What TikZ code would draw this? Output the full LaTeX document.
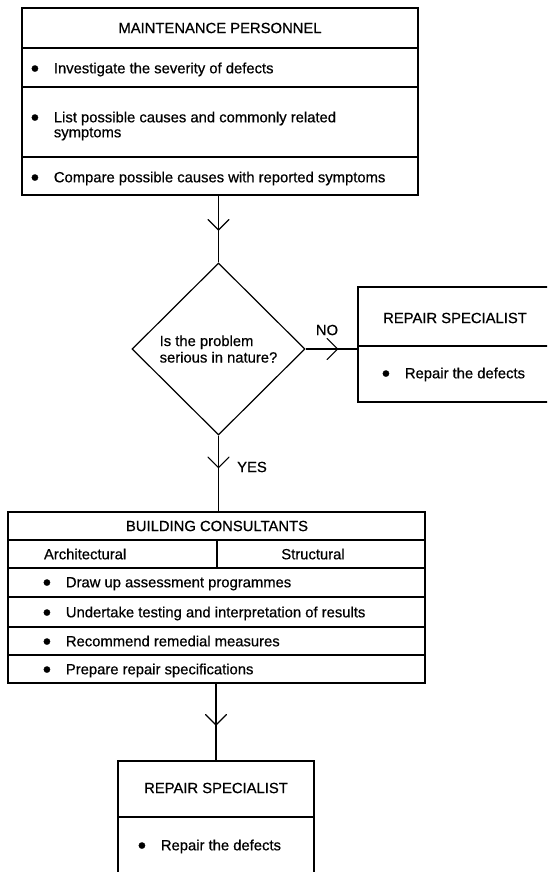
\documentclass[tikz,border=0pt]{standalone}
\usepackage{graphicx}
\usepackage{fontspec}
\setmainfont{Liberation Sans}[FakeBold=0.6]
\usetikzlibrary{shapes.geometric,decorations.markings}
\newcommand\bulletbox{\makebox[21.5pt][l]{\hspace{-1.6pt}\raisebox{-3.1pt}{\scalebox{1.6}{•}}}}
\begin{document}
\begin{tikzpicture}[x=1pt,y=-1pt,line width=1.2pt,
  box/.style={draw,rectangle,inner sep=0pt,outer sep=0pt},
  tline/.style={inner sep=0pt,outer sep=0pt,anchor=base west,font=\fontsize{14.8}{16.5}\selectfont},
  ctxt/.style={inner sep=0pt,outer sep=0pt,font=\fontsize{14.8}{16.5}\selectfont},
  midarrow/.style={postaction={decorate},decoration={markings,
     mark=at position #1 with {\draw[line cap=round,line join=miter] (-10.5pt,10.5pt) -- (0pt,0pt) -- (-10.5pt,-10.5pt);}}}]
\clip (0,0) rectangle (547,872);
\fill[white] (0,0) rectangle (547,872);

% Maintenance personnel
\node[box,minimum width=396pt,minimum height=187pt] (mp) at (220,101.5) {};
\draw (22,48) -- (418,48);
\draw (22,87) -- (418,87);
\draw (22,157) -- (418,157);
\node[ctxt] (mpt) at (220,28) {MAINTENANCE PERSONNEL};
\node[tline] (mp1) at (32.4,73.3) {\bulletbox Investigate the severity of defects};
\node[tline] (mp2) at (32.4,122.3) {\bulletbox List possible causes and commonly related};
\node[tline] (mp2b) at (53.9,137.3) {symptoms};
\node[tline] (mp3) at (32.4,182.3) {\bulletbox Compare possible causes with reported symptoms};

% Decision
\node[draw,diamond,minimum width=173pt,minimum height=172pt,inner sep=0pt,
      align=left,font=\fontsize{14.8}{16.5}\selectfont] (q) at (218.5,349)
      {Is the problem\\serious in nature?};

% Repair specialist (right)
\node[box,minimum width=242pt,minimum height=115pt] (rs1) at (479,344.5) {};
\draw (358,346) -- (600,346);
\node[ctxt] (rs1t) at (455,318) {REPAIR SPECIALIST};
\node[tline] (rs1a) at (383.4,378.3) {\bulletbox Repair the defects};

% Building consultants
\node[box,minimum width=417pt,minimum height=171pt] (bc) at (216.5,597.5) {};
\draw (8,540) -- (425,540);
\draw (8,568) -- (425,568);
\draw (8,597) -- (425,597);
\draw (8,627) -- (425,627);
\draw (8,655) -- (425,655);
\draw (217,540) -- (217,568);
\node[ctxt] (bct) at (217,526) {BUILDING CONSULTANTS};
\node[tline] (bca) at (44,559.3) {Architectural};
\node[ctxt,anchor=base] (bcs) at (313,559.3) {Structural};
\node[tline] (bc1) at (44.4,587.3) {\bulletbox Draw up assessment programmes};
\node[tline] (bc2) at (44.4,617.3) {\bulletbox Undertake testing and interpretation of results};
\node[tline] (bc3) at (44.4,646.3) {\bulletbox Recommend remedial measures};
\node[tline] (bc4) at (44.4,674.3) {\bulletbox Prepare repair specifications};

% Repair specialist (bottom)
\node[box,minimum width=196pt,minimum height=139pt] (rs2) at (216,830.5) {};
\draw (118,817) -- (314,817);
\node[ctxt] (rs2t) at (216,788) {REPAIR SPECIALIST};
\node[tline] (rs2a) at (139.4,850.3) {\bulletbox Repair the defects};

% Connectors
\draw[midarrow=35pt] (q.north |- mp.south) -- (q.north);
\draw[midarrow=32pt] (q.east) -- (q.east -| rs1.west);
\draw[midarrow=32pt] (q.south) -- (q.south |- bc.north);
\draw[midarrow=42pt] (rs2.north |- bc.south) -- (rs2.north);

% Labels
\node[ctxt] (no) at (327,330) {NO};
\node[ctxt] (yes) at (252,467) {YES};
\end{tikzpicture}
\end{document}
